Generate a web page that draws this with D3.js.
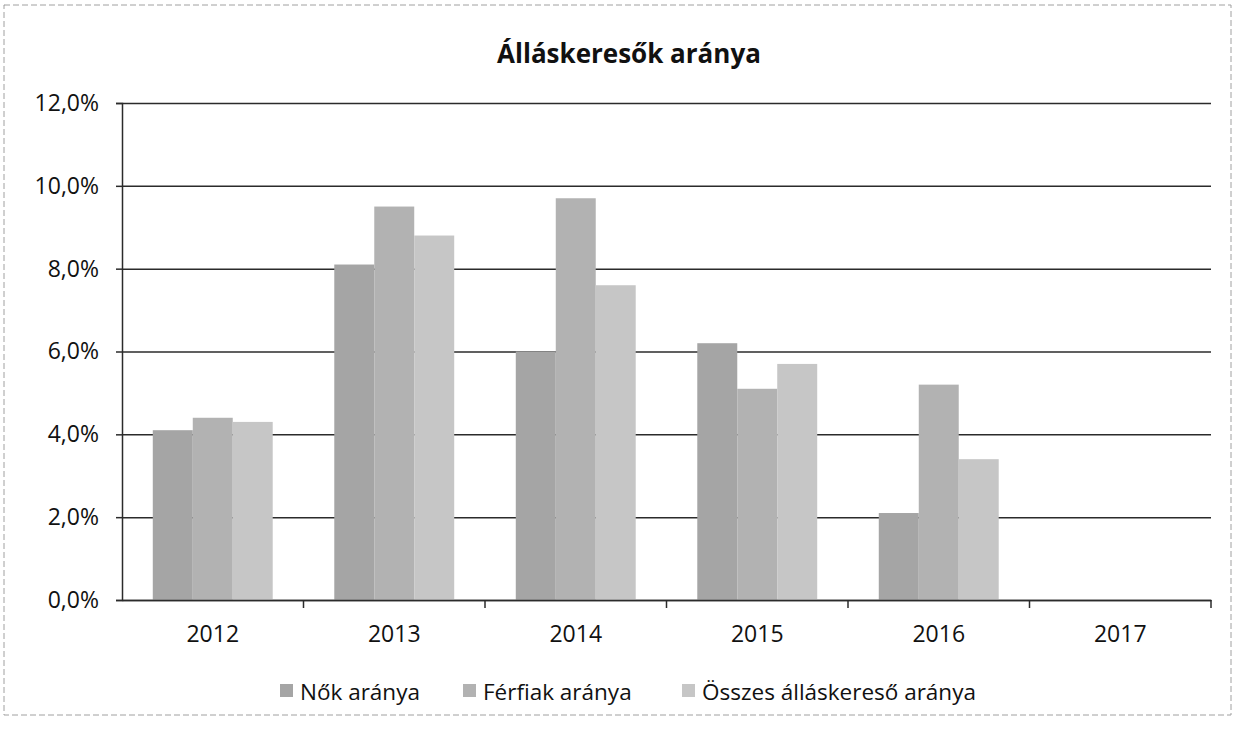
<!DOCTYPE html>
<html>
<head>
<meta charset="utf-8">
<script src="https://cdn.jsdelivr.net/npm/d3@7"></script>
<style>
  body { margin: 0; background: #fff; }
  svg { font-family: "Open Sans", "Noto Sans", sans-serif; }
  .grid line { stroke: #2b2b2b; stroke-width: 1.5; }
  .axis text { fill: #111; font-size: 23px; font-family: "Open Sans", "Noto Sans", sans-serif; }
</style>
</head>
<body>
<svg width="1237" height="730"></svg>
<script>
// chart data
var years = ["2012", "2013", "2014", "2015", "2016", "2017"];
var seriesNames = ["Nők aránya", "Férfiak aránya", "Összes álláskereső aránya"];
var nok = [4.1, 8.1, 6.0, 6.2, 2.1, null];
var ferfiak = [4.4, 9.5, 9.7, 5.1, 5.2, null];
var osszes = [4.3, 8.8, 7.6, 5.7, 3.4, null];
var yTicks = [0, 2, 4, 6, 8, 10, 12];
var colors = ["#a5a5a5", "#b2b2b2", "#c6c6c6"];

var svg = d3.select("svg"),
  width = +svg.attr("width"),
  height = +svg.attr("height");

var margin = {top: 103, right: 26, bottom: 130, left: 122};

// outer frame of the chart
svg.append("rect")
    .attr("x", 4).attr("y", 5)
    .attr("width", width - 10).attr("height", height - 20)
    .attr("fill", "none")
    .attr("stroke", "#a0a0a0")
    .attr("stroke-dasharray", "6,3");

svg.append("text")
    .attr("x", 629)
    .attr("y", 63)
    .attr("text-anchor", "middle")
    .attr("font-size", 26)
    .attr("font-weight", "bold")
    .attr("fill", "#111")
    .text("Álláskeresők aránya");

var x = d3.scaleBand()
    .domain(years)
    .range([margin.left, width - margin.right]);

var x1 = d3.scaleBand()
    .domain(seriesNames)
    .range([0, x.bandwidth()])
    .paddingOuter(0.77);

var y = d3.scaleLinear()
    .domain([0, 12])
    .range([height - margin.bottom, margin.top]);

var fmt = function(d) { return d.toFixed(1).replace(".", ",") + "%"; };

// gridlines
svg.append("g")
    .attr("class", "grid")
    .attr("transform", "translate(" + margin.left + ",0)")
    .call(d3.axisLeft(y)
      .tickValues(yTicks)
      .tickSize(-(width - margin.left - margin.right))
      .tickFormat(""))
  .select(".domain").remove();

var rows = years.map(function(yr, i) {
  return {year: yr, values: [nok[i], ferfiak[i], osszes[i]]};
});

var groups = svg.append("g")
  .selectAll("g")
  .data(rows)
  .enter().append("g")
    .attr("transform", function(d) { return "translate(" + x(d.year) + ",0)"; });

groups.selectAll("rect")
  .data(function(d) {
    return d.values.map(function(v, j) { return {name: seriesNames[j], value: v, j: j}; })
      .filter(function(e) { return e.value != null; });
  })
  .enter().append("rect")
    .attr("x", function(d) { return x1(d.name); })
    .attr("width", x1.bandwidth())
    .attr("y", function(d) { return y(d.value); })
    .attr("height", function(d) { return y(0) - y(d.value); })
    .attr("fill", function(d) { return colors[d.j]; });

// y axis
var yAxis = svg.append("g")
    .attr("class", "axis")
    .attr("transform", "translate(" + margin.left + ",0)")
    .call(d3.axisLeft(y)
      .tickValues(yTicks)
      .tickSize(6)
      .tickPadding(17)
      .tickFormat(fmt));
yAxis.select(".domain").attr("stroke", "#2b2b2b").attr("stroke-width", 1.5);
yAxis.selectAll(".tick line").attr("stroke", "#2b2b2b").attr("stroke-width", 1.5);

// x axis
var xAxis = svg.append("g")
    .attr("class", "axis")
    .attr("transform", "translate(0," + y(0) + ")")
    .call(d3.axisBottom(x).tickSize(0).tickPadding(26));
xAxis.select(".domain").attr("stroke", "#2b2b2b").attr("stroke-width", 1.5);

// category separators
svg.append("g")
  .selectAll("line")
  .data(years.slice(1).concat(["end"]))
  .enter().append("line")
    .attr("x1", function(d) { return d === "end" ? x.range()[1] : x(d); })
    .attr("x2", function(d) { return d === "end" ? x.range()[1] : x(d); })
    .attr("y1", y(0))
    .attr("y2", y(0) + 8)
    .attr("stroke", "#2b2b2b")
    .attr("stroke-width", 1.5);

// legend
var legend = svg.append("g")
    .attr("transform", "translate(280,700)");

var legendX = [0, 183, 402];
var item = legend.selectAll("g")
  .data(seriesNames)
  .enter().append("g")
    .attr("transform", function(d, i) { return "translate(" + legendX[i] + ",0)"; });

item.append("rect")
    .attr("x", 0).attr("y", -16)
    .attr("width", 13).attr("height", 13)
    .attr("fill", function(d, i) { return colors[i]; });

item.append("text")
    .attr("x", 20)
    .attr("y", 0)
    .attr("font-size", 22.5)
    .attr("fill", "#111")
    .text(function(d) { return d; });
</script>
</body>
</html>
